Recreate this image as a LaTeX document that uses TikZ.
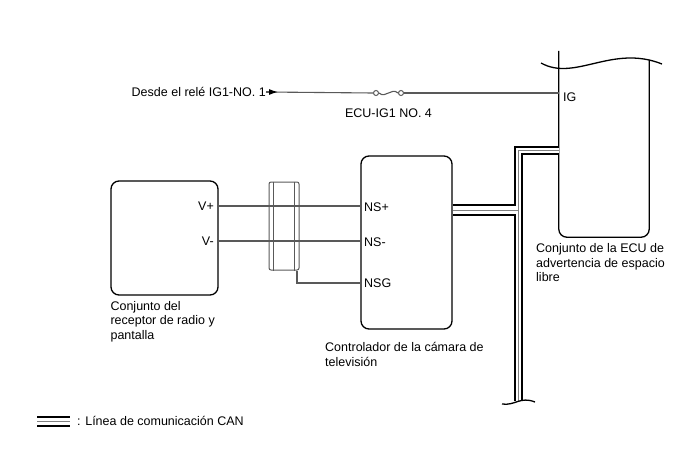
\documentclass[tikz,border=0pt]{standalone}
\usepackage{fontspec}
\setmainfont{Liberation Sans}
\usetikzlibrary{positioning,arrows.meta}

\begin{document}
\begin{tikzpicture}[x=1pt,y=-1pt,
    unit/.style = {draw, line width=1.3pt, rounded corners=8pt},
    lbl/.style = {inner sep=0pt, align=left, font=\fontsize{12.5}{14.5}\selectfont},
    wire/.style = {draw=black!65, line width=1.1pt},
    fusepin/.style = {draw=black!65, line width=1pt, circle, minimum size=5pt, inner sep=0pt}]
    \useasboundingbox (0,0) rectangle (688,463);
    % units
    \node[unit, minimum width=107pt, minimum height=114pt] (radio) at (164.5,238) {};
    \node[unit, minimum width=91pt, minimum height=173pt] (cam) at (406.5,242.5) {};
    \node[minimum width=90pt, minimum height=177pt, inner sep=0pt] (ecu) at (604,148.5) {};
    \draw[line width=1.3pt, rounded corners=8pt] ([yshift=9pt]ecu.north west) -- (ecu.south west) -- (ecu.south east) -- (ecu.north east);
    \draw[line width=1.3pt] (541,63) .. controls (575,82) and (612,44) .. (662,64);
    \node[draw=black!65, line width=1pt, rounded corners=2pt, minimum width=30pt, minimum height=88pt] (shield) at (284,226) {};
    \draw[black!65, line width=1pt] ([xshift=5pt]shield.north west) -- ([xshift=5pt]shield.south west);
    \draw[black!65, line width=1pt] ([xshift=-5pt]shield.north east) -- ([xshift=-5pt]shield.south east);
    % pins
    \node[lbl, anchor=east] (vp) at (214,206) {V+};
    \node[lbl, anchor=east] (vm) at (214,241) {V-};
    \node[lbl, anchor=west] (nsp) at (364,207) {NS+};
    \node[lbl, anchor=west] (nsm) at (364,242) {NS-};
    \node[lbl, anchor=west] (nsg) at (364,283) {NSG};
    \node[lbl, anchor=west] (ig) at (563,97) {IG};
    % labels
    \node[lbl, below right=5.5pt and 0pt of radio.south west] (radiolbl) {Conjunto del\\receptor de radio y\\pantalla};
    \node[lbl, anchor=north west] (camlbl) at (325,342.5) {Controlador de la cámara de\\televisión};
    \node[lbl, anchor=north west] (eculbl) at (536,243.5) {Conjunto de la ECU de\\advertencia de espacio\\libre};
    \node[lbl, anchor=east] (src) at (266,92) {Desde el relé IG1-NO. 1};
    \node[fusepin] (f1) at (376,93) {};
    \node[fusepin] (f2) at (401,93) {};
    \node[lbl] (fuselbl) at (388.5,113) {ECU-IG1 NO. 4};
    % wires
    \draw[wire] (src.east) -- (f1.west);
    \draw[wire, -{Latex[length=9pt,width=6pt,black]}] (src.east) -- ++(12,0);
    \draw[wire] (f1.east) .. controls +(7,6) and +(-7,-6) .. (f2.west);
    \draw[wire] (f2.east) -- (ecu.west |- f2);
    \draw[wire] (radio.east |- vp) -- (cam.west |- vp);
    \draw[wire] (radio.east |- vm) -- (cam.west |- vm);
    \draw[wire] ([xshift=-2.5pt]shield.south east) |- (cam.west |- nsg);
    % CAN bus
    \coordinate (canj) at (518,210);
    \coordinate (cant) at (518,150);
    \coordinate (canb) at (518,401);
    \coordinate (lg1) at (37,421);
    \coordinate (lg2) at (70,421);
    \draw[line width=12pt] (cam.east |- canj) -- (canj);
    \draw[line width=9pt] (canb) -- (cant) -- (ecu.west |- cant);
    \draw[line width=11pt] (lg1) -- (lg2);
    \draw[white, line width=8pt] (cam.east |- canj) -- (canj);
    \draw[white, line width=5pt] (canb) -- (cant) -- (ecu.west |- cant);
    \draw[white, line width=7pt] (lg1) -- (lg2);
    \draw[gray, line width=0.7pt] (cam.east |- canj) -- (canj) (canb) -- (cant) -- (ecu.west |- cant) (lg1) -- (lg2);
    \draw[line width=1.3pt] (502,404) .. controls (515,406) and (520,396) .. (535,402);
    \node[lbl, right=7pt of lg2] (lgtxt) {: Línea de comunicación CAN};
\end{tikzpicture}
\end{document}
